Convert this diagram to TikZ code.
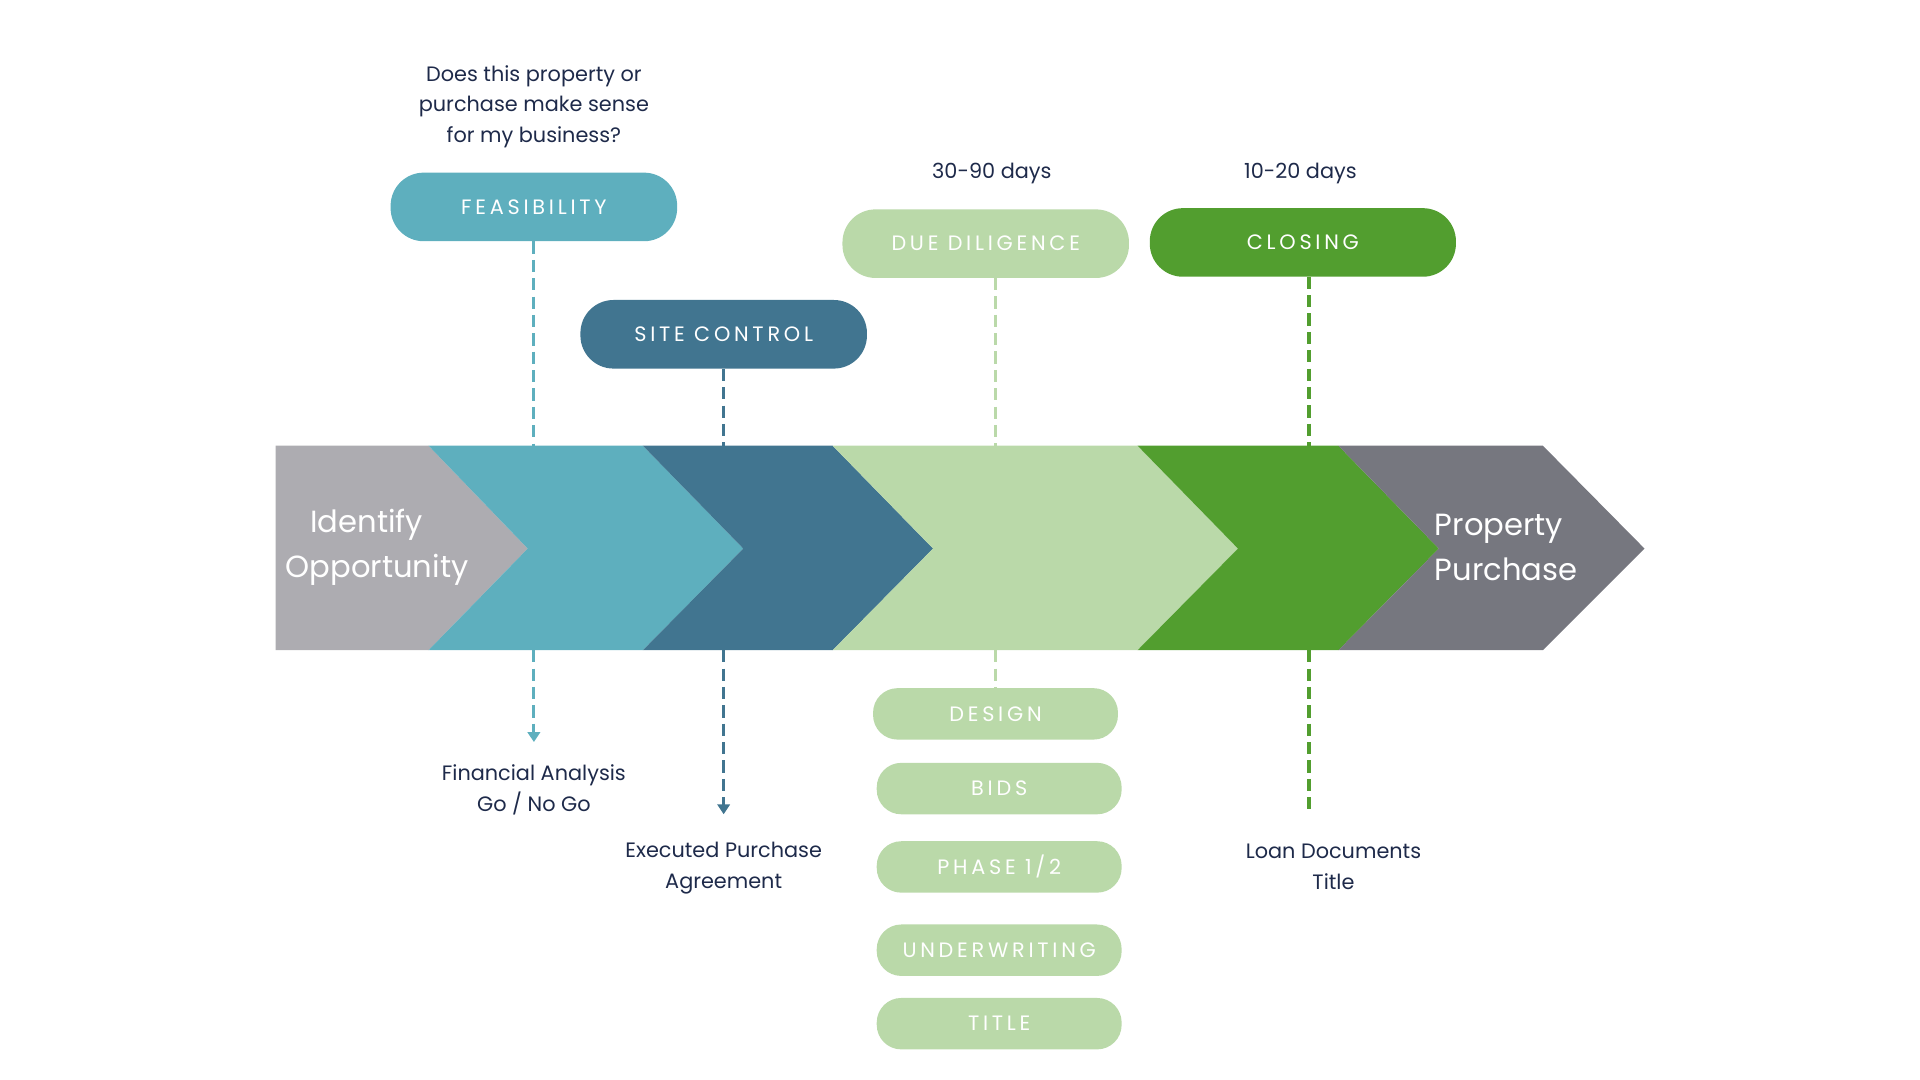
\documentclass[tikz,border=0pt]{standalone}
\usepackage{fontspec}
\setmainfont{Poppins}
\newfontfamily\capf[LetterSpace=18]{Poppins}
\usetikzlibrary{arrows.meta}
\definecolor{cgray}{HTML}{ADACB1}
\definecolor{cteal}{HTML}{5EAFBE}
\definecolor{cdark}{HTML}{417590}
\definecolor{clight}{HTML}{BAD9A9}
\definecolor{cgreen}{HTML}{529E2F}
\definecolor{cslate}{HTML}{76777F}
\definecolor{ctext}{HTML}{1E2A4A}
\begin{document}
\begin{tikzpicture}[x=1pt,y=-1pt,
 pill/.style={rounded corners=27pt,minimum width=234pt,minimum height=56pt,text=white,font=\capf\fontsize{17}{20}\selectfont},
 spill/.style={fill=clight,rounded corners=20pt,minimum width=200pt,minimum height=42pt,text=white,font=\capf\fontsize{17}{20}\selectfont},
 lbl/.style={text=ctext,font=\fontsize{17}{25}\selectfont,align=center},
 dl/.style={line width=2.5pt,dash pattern=on 10pt off 5pt},
 big/.style={text=white,font=\fontsize{25}{37}\selectfont,align=left}]
\useasboundingbox (0,0) rectangle (1568,882);
\fill[cgray] (225,364)--(350,364)--(431,448)--(350,531)--(225,531)--cycle;
\fill[cteal] (350,364)--(525,364)--(607,448)--(525,531)--(350,531)--(431,448)--cycle;
\fill[cdark] (525,364)--(680,364)--(762,448)--(680,531)--(525,531)--(607,448)--cycle;
\fill[clight] (680,364)--(929,364)--(1011,448)--(929,531)--(680,531)--(762,448)--cycle;
\fill[cgreen] (929,364)--(1093,364)--(1175,448)--(1093,531)--(929,531)--(1011,448)--cycle;
\fill[cslate] (1093,364)--(1260,364)--(1343,448)--(1260,531)--(1093,531)--(1175,448)--cycle;
\node[big] (id) at (308,447) {\hspace*{0.8em}Identify\\Opportunity};
\node[big] (pp) at (1230,447) {Property\\Purchase};

\node[pill,fill=cteal] (fe) at (436,169) {FEASIBILITY};
\node[pill,fill=cdark] (sc) at (591,273) {SITE CONTROL};
\node[pill,fill=clight] (dd) at (805,199) {DUE DILIGENCE};
\node[pill,fill=cgreen,minimum width=250pt] (cl) at (1064,198) {CLOSING};
\node[spill] (de) at (813,583) {DESIGN};
\node[spill] (bi) at (816,644) {BIDS};
\node[spill] (ph) at (816,708) {PHASE 1/2};
\node[spill] (un) at (816,776) {UNDERWRITING};
\node[spill] (ti) at (816,836) {TITLE};

\node[lbl] (q) at (436,87) {Does this property or\\purchase make sense\\for my business?};
\node[lbl] (d1) at (810,142) {30-90 days};
\node[lbl] (d2) at (1062,142) {10-20 days};
\node[lbl] (fa) at (436,645) {Financial Analysis\\Go / No Go};
\node[lbl] (ep) at (591,709) {Executed Purchase\\Agreement};
\node[lbl] (ld) at (1089,708) {Loan Documents\\Title};

\coordinate (f1) at (436,364); \coordinate (f2) at (436,531); \coordinate (f3) at (436,606);
\coordinate (s1) at (591,364); \coordinate (s2) at (591,531); \coordinate (s3) at (591,665);
\coordinate (g1) at (813,364); \coordinate (g2) at (813,531);
\coordinate (c1) at (1069,364); \coordinate (c2) at (1069,531); \coordinate (c3) at (1069,665);
\draw[dl,cteal] (fe.south) -- (f1);
\draw[dl,cteal,-{Triangle[length=8pt,width=10pt]}] (f2) -- (f3);
\draw[dl,cdark] (sc.south) -- (s1);
\draw[dl,cdark,-{Triangle[length=8pt,width=10pt]}] (s2) -- (s3);
\draw[dl,clight] (813,227) -- (g1);
\draw[dl,clight] (g2) -- (de.north);
\draw[dl,cgreen] (1069,226) -- (c1);
\draw[dl,cgreen] (c2) -- (c3);
\end{tikzpicture}
\end{document}
